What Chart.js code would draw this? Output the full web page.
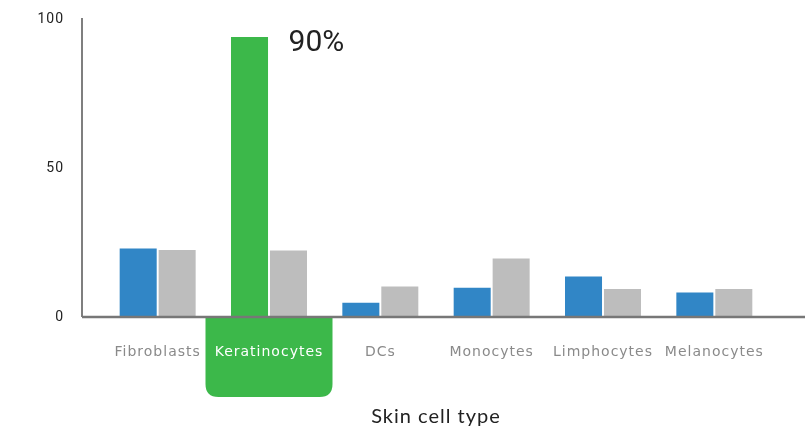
<!DOCTYPE html>
<html>
<head>
<meta charset="utf-8">
<script src="https://cdn.jsdelivr.net/npm/chart.js@4"></script>
<style>
  html, body { margin: 0; padding: 0; background: #fff; }
  #wrap { width: 809px; height: 428px; position: relative; }
</style>
</head>
<body>
<div id="wrap"><canvas id="myChart"></canvas></div>
<script>
  // chart data
  const categories = ['Fibroblasts', 'Keratinocytes', 'DCs', 'Monocytes', 'Limphocytes', 'Melanocytes'];
  const seriesA = [23, 94, 4.8, 9.8, 13.6, 8.2];
  const seriesB = [22.5, 22.3, 10.2, 19.6, 9.4, 9.4];
  const yTicks = [0, 50, 100];
  const highlightIndex = 1;
  const highlightLabel = '90%';

  const blue = '#3186c6', gray = '#bdbdbd', green = '#3cb84a';

  // axis lines, highlight box and the 90% note
  const decor = {
    id: 'decor',
    beforeDraw(chart) {
      const ctx = chart.ctx, area = chart.chartArea, x = chart.scales.x;
      const cx = x.getPixelForValue(highlightIndex);
      const w = 127, top = area.bottom + 1, h = 79, r = 13;
      ctx.save();
      ctx.fillStyle = green;
      ctx.beginPath();
      ctx.moveTo(cx - w / 2, top);
      ctx.lineTo(cx + w / 2, top);
      ctx.lineTo(cx + w / 2, top + h - r);
      ctx.quadraticCurveTo(cx + w / 2, top + h, cx + w / 2 - r, top + h);
      ctx.lineTo(cx - w / 2 + r, top + h);
      ctx.quadraticCurveTo(cx - w / 2, top + h, cx - w / 2, top + h - r);
      ctx.closePath();
      ctx.fill();
      ctx.restore();
      // the labels in the picture are set quite loose
      ctx.letterSpacing = '1px';
    },
    afterDatasetsDraw(chart) {
      const ctx = chart.ctx, area = chart.chartArea;
      ctx.save();
      ctx.letterSpacing = '0px';
      // y axis
      ctx.strokeStyle = '#555';
      ctx.lineWidth = 1.5;
      ctx.beginPath();
      ctx.moveTo(area.left - 20, area.top - 1);
      ctx.lineTo(area.left - 20, area.bottom);
      ctx.stroke();
      // x axis
      ctx.strokeStyle = '#777';
      ctx.lineWidth = 2.5;
      ctx.beginPath();
      ctx.moveTo(area.left - 20, area.bottom);
      ctx.lineTo(area.right + 35, area.bottom);
      ctx.stroke();
      // value note
      const bar = chart.getDatasetMeta(0).data[highlightIndex];
      ctx.fillStyle = '#222';
      ctx.font = '30px Roboto';
      ctx.textBaseline = 'middle';
      ctx.fillText(highlightLabel, bar.x + 39, bar.y + 7);
      ctx.restore();
    }
  };

  const data = {
    labels: categories,
    datasets: [{
      data: seriesA,
      backgroundColor: categories.map((c, i) => i === highlightIndex ? green : blue),
      categoryPercentage: 0.7,
      barPercentage: 0.95
    }, {
      data: seriesB,
      backgroundColor: gray,
      categoryPercentage: 0.7,
      barPercentage: 0.95
    }]
  };

  const config = {
    type: 'bar',
    data: data,
    options: {
      responsive: true,
      maintainAspectRatio: false,
      animation: false,
      layout: { padding: { top: 19, right: 39, bottom: 0, left: 0 } },
      plugins: { legend: { display: false }, tooltip: { enabled: false } },
      scales: {
        x: {
          grid: { display: false, drawTicks: false },
          border: { display: false },
          ticks: {
            padding: 27,
            font: { family: 'DejaVu Sans', size: 14 },
            color: c => c.index === highlightIndex ? '#ffffff' : '#8a8a8a'
          },
          title: {
            display: true,
            text: 'Skin cell type',
            color: '#222',
            font: { family: 'Lato', size: 20 },
            padding: { top: 0, bottom: -1 }
          },
          afterFit: s => { s.height = 111; }
        },
        y: {
          min: 0,
          max: 100,
          grid: { display: false, drawTicks: false },
          border: { display: false },
          afterBuildTicks: s => { s.ticks = yTicks.map(v => ({ value: v })); },
          ticks: {
            padding: 38,
            font: { family: 'Roboto', size: 14 },
            color: '#222'
          },
          afterFit: s => { s.width = 102; s.paddingTop = 0; s.paddingBottom = 0; }
        }
      }
    },
    plugins: [decor]
  };

  const myChart = new Chart(document.getElementById('myChart'), config);
</script>
</body>
</html>
